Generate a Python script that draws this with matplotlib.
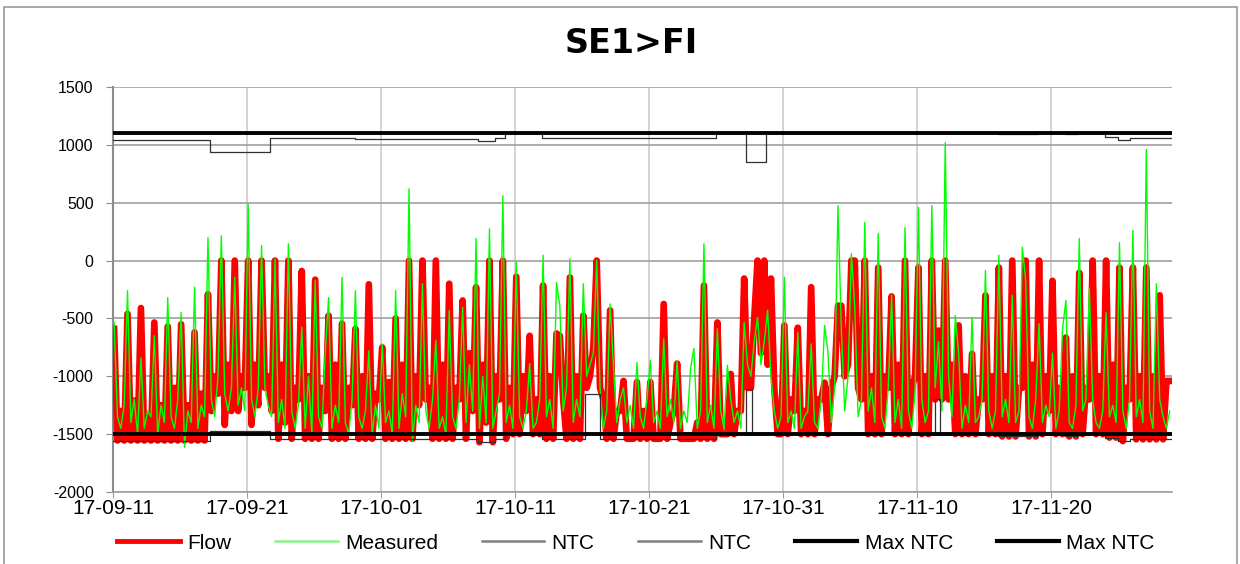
import numpy as np
import pandas as pd
import matplotlib
matplotlib.use("Agg")
import matplotlib.pyplot as plt
from matplotlib.lines import Line2D
from matplotlib.patches import Rectangle

plt.rcParams['font.family'] = ['Liberation Sans', 'DejaVu Sans']

START = pd.Timestamp("2017-09-11")
END = pd.Timestamp("2017-11-29")

# Flow SE1>FI, MW, 4 readings per day (02h, 08h, 14h, 20h)
flow_rows = [
    [-590, -1555, -1300, -1555], [-460, -1555, -1210, -1555], [-410, -1555, -1350, -1555],
    [-535, -1555, -1250, -1555], [-570, -1555, -1100, -1555], [-550, -1555, -1250, -1555],
    [-620, -1555, -1150, -1555], [-290, -1300, -1000, -1150], [0, -1420, -900, -1300],
    [0, -1300, -1000, -1100], [0, -1420, -900, -1250], [0, -1100, -1000, -1300],
    [0, -1540, -900, -1400], [0, -1540, -1100, -1200], [-90, -1540, -1000, -1540],
    [-165, -1540, -1100, -1300], [-475, -1540, -900, -1540], [-545, -1540, -1100, -1250],
    [-590, -1540, -1000, -1540], [-205, -1540, -1150, -1200], [-750, -1540, -1050, -1540],
    [-500, -1540, -900, -1540], [0, -1540, -1000, -1250], [0, -1200, -1100, -1540],
    [0, -1540, -900, -1540], [-200, -1540, -1100, -1200], [-345, -1540, -800, -1300],
    [-230, -1570, -900, -1400], [0, -1570, -1000, -1200], [0, -1540, -1100, -1500],
    [-140, -1500, -1000, -1300], [-650, -1500, -1200, -1500], [-215, -1540, -1000, -1540],
    [-630, -650, -1200, -1540], [-145, -1540, -1000, -1540], [-475, -1100, -1000, -750],
    [0, -1100, -1200, -1540], [-430, -1540, -1300, -1300], [-1040, -1540, -1540, -1540],
    [-1050, -1540, -1300, -1540], [-1050, -1540, -1540, -1540], [-375, -1540, -1400, -1300],
    [-890, -1540, -1540, -1540], [-1540, -1540, -1400, -1540], [-215, -1540, -1300, -1540],
    [-535, -1500, -1500, -1500], [-980, -1500, -1300, -1300], [-155, -1100, -1100, -500],
    [0, -800, 0, -900], [-155, -1100, -1500, -1500], [-560, -1500, -1200, -1300],
    [-580, -1500, -1300, -1500], [-230, -1500, -1200, -1200], [-1055, -1500, -1100, -1000],
    [-390, -390, -1000, -900], [0, 0, -1100, -1200], [0, -1500, -1000, -1500],
    [-60, -1500, -1000, -1100], [-310, -1500, -900, -1500], [0, -1500, -1100, -1000],
    [-60, -1500, -1000, -1500], [0, -1200, -605, -1200], [0, -1200, -900, -1500],
    [-560, -1500, -1000, -1500], [-805, -1500, -1200, -1200], [-300, -1500, -1000, -1500],
    [-60, -1520, -1000, -1520], [0, -1520, -1100, -1100], [0, -1520, -900, -1520],
    [0, -1500, -1000, -1300], [-175, -1500, -1100, -1500], [-665, -1520, -1000, -1520],
    [-105, -1500, -1100, -1200], [0, -1500, -1000, -1500], [0, -1530, -900, -1530],
    [-60, -1560, -1100, -1200], [-60, -1545, -1000, -1545], [-60, -1545, -1000, -1545],
    [-300, -1545, -1040, -1040],
]

# Measured flow, same readings
measured_rows = [
    [-535, -1350, -1450, -1250], [-260, -1400, -1200, -1500], [-840, -1450, -1300, -1350],
    [-650, -1500, -1250, -1400], [-320, -1350, -1450, -1200], [-450, -1615, -1300, -1400],
    [-230, -1450, -1250, -1350], [200, -1200, -1350, -1000], [215, -1150, -1300, -1100],
    [-145, -1250, -1100, -1300], [490, -1200, -1350, -1100], [130, -1100, -1250, -1350],
    [15, -1400, -1200, -1450], [145, -1300, -1450, -1250], [-575, -1450, -1000, -1500],
    [-170, -1350, -1450, -800], [-320, -1450, -1250, -1400], [-145, -1400, -1500, -1200],
    [-260, -1350, -1450, -1300], [-780, -1500, -1250, -1450], [-720, -1400, -1300, -1500],
    [-260, -1450, -1150, -1350], [620, -1560, -1250, -1400], [-200, -1300, -1450, -1200],
    [-690, -1450, -1350, -1500], [-430, -1350, -1450, -1200], [-405, -1400, -900, -1300],
    [190, -1450, -1000, -1400], [275, -1450, -1300, -1150], [560, -1400, -1250, -1450],
    [-15, -1350, -1450, -1300], [-890, -1450, -1400, -1200], [45, -1350, -1200, -1450],
    [-190, -390, -1300, -1100], [15, -1400, -1200, -1350], [-200, -1000, -900, -800],
    [0, -1100, -1450, -1300], [-375, -910, -1400, -1200], [-1100, -1400, -1250, -1450],
    [-880, -1350, -1450, -1200], [-865, -1400, -1300, -1450], [-675, -1350, -1200, -1400],
    [-865, -1450, -1300, -1400], [-935, -760, -1450, -1300], [145, -1400, -1250, -1450],
    [-590, -1300, -1450, -905], [-1200, -1400, -1300, -1450], [-535, -900, -1000, -700],
    [-490, -900, -700, -430], [-1000, -1300, -1450, -1350], [-145, -1400, -1300, -1450],
    [-620, -1450, -1350, -1300], [-720, -1400, -1450, -1200], [-560, -790, -1400, -1100],
    [475, -600, -1300, -1000], [60, -400, -1350, -1200], [330, -1300, -1100, -1400],
    [235, -1350, -1450, -1100], [-300, -1400, -1200, -1450], [285, -1300, -1450, -1150],
    [460, -1200, -1400, -1300], [475, -1100, -700, -1300], [1020, -1000, -1350, -475],
    [-800, -1450, -1250, -1400], [-490, -1400, -1350, -1200], [-85, -1300, -1450, -1300],
    [45, -1350, -1200, -1400], [-300, -1400, -1300, 115], [-170, -1350, -1450, -1200],
    [-545, -1400, -1250, -1350], [-800, -1450, -1300, -590], [-345, -1400, -1450, -1250],
    [190, -1300, -1200, -240], [-1200, -1400, -1450, -1300], [-450, -1350, -1250, -1400],
    [155, -1300, -1450, -1200], [260, -1350, -1200, -1400], [960, -1300, -1450, -200],
    [-1200, -1350, -1450, -1300],
]

# NTC step changes (day offset from start, MW)
ntc_up_days = [0, 7.25, 11.7, 18.05, 27.2, 28.5, 29.25, 32.0, 45.0, 47.2, 48.7, 66, 69, 71, 72, 74.0, 75.0, 75.9]
ntc_up_vals = [1040, 940, 1060, 1050, 1030, 1060, 1100, 1060, 1100, 855, 1100, 1090, 1100, 1090, 1100, 1065, 1045, 1055]
ntc_dn_days = [0, 7.25, 11.7, 27.2, 28.5, 29.25, 32.0, 35.2, 36.3, 45.0, 47.25, 47.7, 61.3, 61.7, 66, 69, 71, 72, 74, 75, 75.9]
ntc_dn_vals = [-1560, -1470, -1540, -1570, -1540, -1500, -1540, -1150, -1540, -1500, -1110, -1500, -1200, -1500, -1520, -1500, -1520, -1500, -1530, -1560, -1545]

max_ntc_up = 1100
max_ntc_dn = -1500

y_ticks = [-2000, -1500, -1000, -500, 0, 500, 1000, 1500]
x_ticks = pd.date_range(START, periods=8, freq="10D")

flow = np.array(flow_rows).ravel()
measured = np.array(measured_rows).ravel()
t = pd.date_range(START + pd.Timedelta(hours=2), periods=len(flow), freq="6h")


def steps(days, vals):
    x = [START + pd.Timedelta(days=d) for d in days] + [END]
    y = list(vals) + [vals[-1]]
    return x, y


fig = plt.figure(figsize=(12.4, 5.64), dpi=100)
ax = fig.add_axes([113 / 1240, 1 - 492 / 564, (1172 - 113) / 1240, (492 - 87) / 564])

ax.plot(t, flow, color="#ff0000", lw=4.8, zorder=3)
ax.plot(t, measured, color="#00ff00", lw=1.0, zorder=4)
x, y = steps(ntc_up_days, ntc_up_vals)
ax.plot(x, y, color="#303030", lw=0.9, drawstyle="steps-post", zorder=5)
x, y = steps(ntc_dn_days, ntc_dn_vals)
ax.plot(x, y, color="#303030", lw=0.9, drawstyle="steps-post", zorder=5)
ax.plot([START, END], [max_ntc_up, max_ntc_up], color="black", lw=2.8, zorder=6)
ax.plot([START, END], [max_ntc_dn, max_ntc_dn], color="black", lw=2.8, zorder=6)

ax.set_xlim(START, END)
ax.set_ylim(-2000, 1500)
ax.set_yticks(y_ticks)
ax.set_yticklabels([str(v) for v in y_ticks])
ax.set_xticks(x_ticks)
ax.set_xticklabels([d.strftime("%y-%m-%d") for d in x_ticks])

ax.grid(axis="y", color="#a0a0a0", lw=1.2, zorder=0)
ax.grid(axis="x", color="#cccccc", lw=1.2, zorder=0)
for s in ["top", "right"]:
    ax.spines[s].set_visible(False)
ax.spines["left"].set_color("#8c8c8c")
ax.spines["left"].set_linewidth(1.5)
ax.spines["bottom"].set_color("#a0a0a0")
ax.spines["bottom"].set_linewidth(1.2)
ax.tick_params(axis="y", length=5, color="#8c8c8c", labelsize=11.5, pad=9)
ax.tick_params(axis="x", length=4, color="#a0a0a0", labelsize=15, pad=1)

fig.text(0.509, 0.922, "SE1>FI", ha="center", va="center", fontsize=24,
         fontweight="bold", family="DejaVu Sans")

handles = [
    Line2D([], [], color="#ff0000", lw=3.5),
    Line2D([], [], color="#90ee90", lw=1.8),
    Line2D([], [], color="#808080", lw=1.8),
    Line2D([], [], color="#808080", lw=1.8),
    Line2D([], [], color="black", lw=3.0),
    Line2D([], [], color="black", lw=3.0),
]
labels = ["Flow", "Measured", "NTC", "NTC", "Max NTC", "Max NTC"]
fig.legend(handles, labels, loc="center", bbox_to_anchor=(0.513, 0.037), ncol=6,
           frameon=False, fontsize=15, handlelength=3.0, handletextpad=0.35,
           columnspacing=2.1)

fig.add_artist(Rectangle((4 / 1240, -0.01), 1233 / 1240, 1 - 7 / 564 + 0.01,
                         transform=fig.transFigure, fill=False, edgecolor="#9a9a9a", lw=1.2))

fig.savefig("out.png", dpi=100)
